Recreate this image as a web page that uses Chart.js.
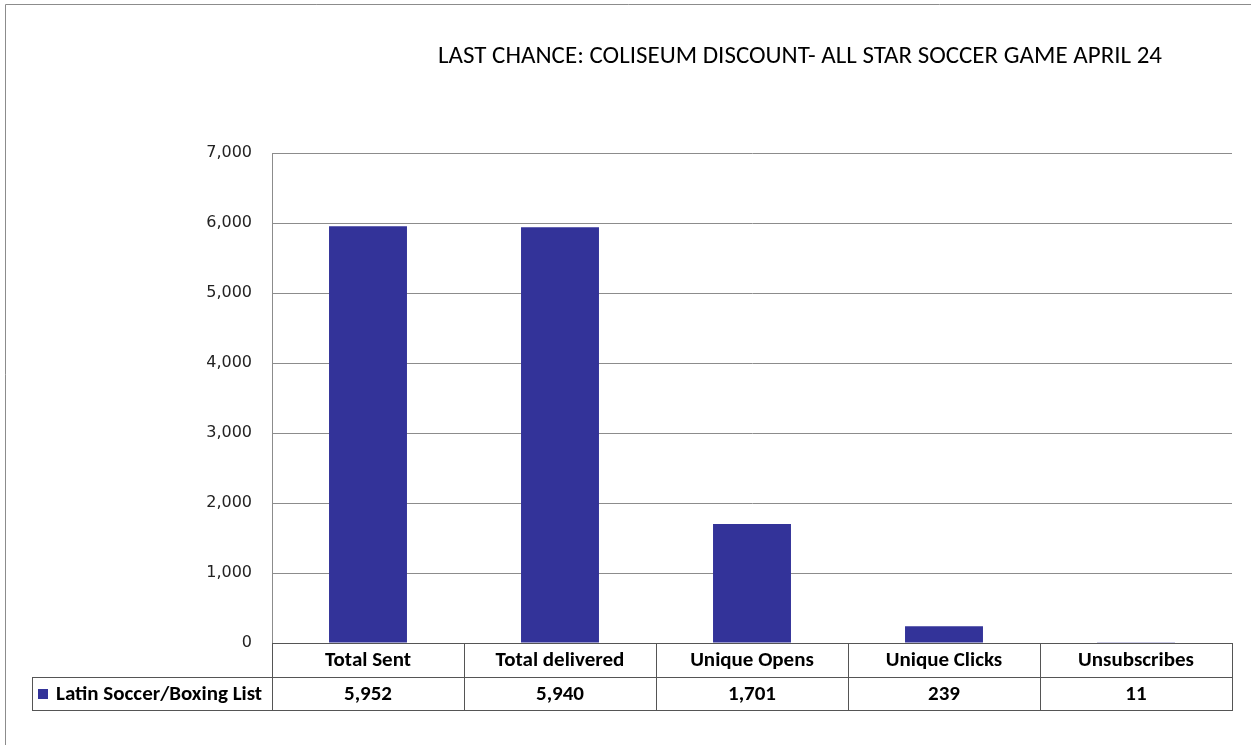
<!DOCTYPE html>
<html>
<head>
<meta charset="utf-8">
<script src="https://cdn.jsdelivr.net/npm/chart.js@4/dist/chart.umd.min.js"></script>
<style>
  html, body { margin: 0; padding: 0; background: #fff; }
  #wrap { width: 1251px; height: 745px; }
</style>
</head>
<body>
<div id="wrap"><canvas id="chart" width="1251" height="745"></canvas></div>
<script>
// дані графіка
const chartTitle = 'LAST CHANCE: COLISEUM DISCOUNT- ALL STAR SOCCER GAME APRIL 24';
const categories = ['Total Sent', 'Total delivered', 'Unique Opens', 'Unique Clicks', 'Unsubscribes'];
const seriesName = 'Latin Soccer/Boxing List';
const seriesValues = [5952, 5940, 1701, 239, 11];
const yTicks = [0, 1000, 2000, 3000, 4000, 5000, 6000, 7000];

const barColor = '#333399';
const fontFamily = '"Liberation Sans Narrow", Carlito, Calibri, "Open Sans", sans-serif';
const tableFont = 'bold 21px ' + fontFamily;
const titleFont = '25px ' + fontFamily;

const fmt = v => v.toLocaleString('en-US');

// таблиця даних під віссю X, заголовок і рамка
const tablePlugin = {
    id: 'dataTable',
    afterDraw(chart) {
        const {ctx, chartArea, scales: {x}} = chart;
        const n = categories.length;
        const cw = (x.right - x.left) / n;
        const top = chartArea.bottom;
        const rowH = 34;
        const mid = top + rowH;
        const bottom = top + rowH * 2 - 1;
        const keyLeft = 32;

        ctx.save();
        ctx.strokeStyle = '#555';
        ctx.lineWidth = 1;
        ctx.beginPath();
        // горизонтальні лінії
        ctx.moveTo(x.left, top + 0.5); ctx.lineTo(x.right, top + 0.5);
        ctx.moveTo(keyLeft, mid + 0.5); ctx.lineTo(x.right, mid + 0.5);
        ctx.moveTo(keyLeft, bottom + 0.5); ctx.lineTo(x.right, bottom + 0.5);
        // вертикальні лінії
        for (let i = 0; i <= n; i++) {
            const px = Math.round(x.left + cw * i) + 0.5;
            ctx.moveTo(px, top); ctx.lineTo(px, bottom + 1);
        }
        ctx.moveTo(keyLeft + 0.5, mid); ctx.lineTo(keyLeft + 0.5, bottom + 1);
        ctx.stroke();

        // значення
        ctx.fillStyle = '#000';
        ctx.font = tableFont;
        ctx.textAlign = 'center';
        ctx.textBaseline = 'middle';
        seriesValues.forEach((v, i) => {
            ctx.fillText(fmt(v), x.getPixelForValue(i), mid + rowH / 2 + 1);
        });

        // ключ легенди
        ctx.fillStyle = barColor;
        ctx.fillRect(keyLeft + 6, mid + 12, 10, 10);
        ctx.fillStyle = '#000';
        ctx.textAlign = 'left';
        ctx.fillText(seriesName, keyLeft + 24, mid + rowH / 2 + 1);

        // заголовок
        ctx.font = titleFont;
        ctx.textAlign = 'center';
        ctx.fillText(chartTitle, 800, 57);

        // рамка області графіка
        ctx.strokeStyle = '#8c8c8c';
        ctx.beginPath();
        ctx.moveTo(5.5, 745); ctx.lineTo(5.5, 4.5); ctx.lineTo(1251, 4.5);
        ctx.stroke();
        ctx.restore();
    }
};

new Chart(document.getElementById('chart'), {
    type: 'bar',
    data: {
        labels: categories,
        datasets: [{
            label: seriesName,
            data: seriesValues,
            backgroundColor: barColor,
            borderWidth: 0,
            barPercentage: 0.406,
            categoryPercentage: 1,
        }]
    },
    options: {
        responsive: false,
        animation: false,
        layout: {padding: {top: 153, right: 19, bottom: 0, left: 0}},
        plugins: {legend: {display: false}, title: {display: false}, tooltip: {enabled: false}},
        scales: {
            x: {
                grid: {display: false, drawTicks: false},
                border: {display: true, color: '#555'},
                ticks: {
                    color: '#000',
                    padding: 5,
                    maxRotation: 0,
                    font: {family: fontFamily, size: 21, weight: 'bold'}
                },
                afterFit(scale) { scale.height = 102; }
            },
            y: {
                min: 0,
                max: 7000,
                afterBuildTicks(scale) { scale.ticks = yTicks.map(v => ({value: v})); },
                grid: {color: '#8c8c8c', drawTicks: false},
                border: {display: true, color: '#8c8c8c'},
                ticks: {
                    color: '#222',
                    padding: 20,
                    callback: v => fmt(v),
                    font: {family: '"DejaVu Sans", Verdana, sans-serif', size: 16}
                },
                afterFit(scale) { scale.width = 272; }
            }
        }
    },
    plugins: [tablePlugin]
});
</script>
</body>
</html>
